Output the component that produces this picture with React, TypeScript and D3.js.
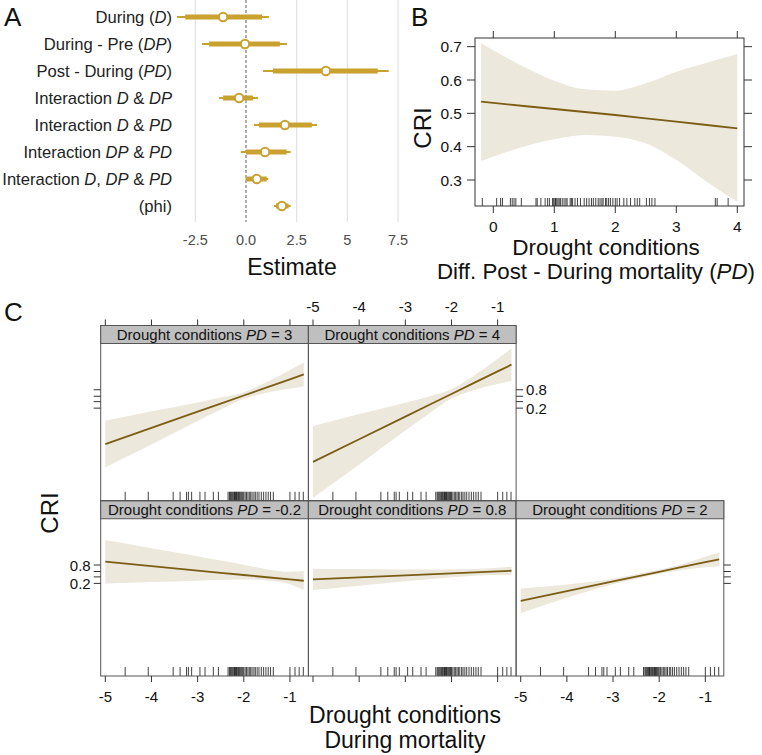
import React from "react";
import * as d3 from "d3";

const FONT = "'Liberation Sans', Arial, Helvetica, sans-serif";
const GOLD = "#c9a12e";
const LINE = "#7b5d14";
const BAND = "#ece8dc";

// ---------- Panel A data ----------
const estLabels = [
  "During (*D*)",
  "During - Pre (*DP*)",
  "Post - During (*PD*)",
  "Interaction *D* & *DP*",
  "Interaction *D* & *PD*",
  "Interaction *DP* & *PD*",
  "Interaction *D*, *DP* & *PD*",
  "(phi)",
];
const estMedian = [-1.13, -0.05, 3.94, -0.34, 1.92, 0.94, 0.53, 1.77];
const innerLo = [-3.0, -1.82, 1.33, -1.13, 0.64, 0.0, 0.04, 1.48];
const innerHi = [0.79, 1.67, 6.5, 0.34, 3.25, 2.0, 1.02, 2.1];
const outerLo = [-3.4, -2.17, 0.84, -1.33, 0.39, -0.25, -0.02, 1.38];
const outerHi = [1.13, 2.02, 7.04, 0.59, 3.5, 2.2, 1.1, 2.2];
const estTicks = [-2.5, 0, 2.5, 5, 7.5];
const estTickLabels = ["-2.5", "0.0", "2.5", "5", "7.5"];

// ---------- Panel B data ----------
const bX = [-0.2, 0.5, 1, 1.5, 2, 2.5, 3, 3.5, 4];
const bFit = [0.535, 0.522, 0.513, 0.504, 0.495, 0.485, 0.475, 0.465, 0.455];
const bUpper = [0.71, 0.64, 0.598, 0.572, 0.568, 0.59, 0.625, 0.652, 0.678];
const bLower = [0.357, 0.4, 0.422, 0.435, 0.43, 0.41, 0.36, 0.295, 0.235];
const bXTicks = [0, 1, 2, 3, 4];
const bYTicks = [0.3, 0.4, 0.5, 0.6, 0.7];
const bRug = [
  -0.18, 0.055, 0.12, 0.15, 0.28, 0.31, 0.34, 0.37, 0.46, 0.7, 0.72, 0.78,
  0.85, 0.89, 0.92, 0.97, 0.99, 1.01, 1.02, 1.04, 1.06, 1.08, 1.1, 1.13, 1.16,
  1.19, 1.21, 1.26, 1.28, 1.3, 1.34, 1.38, 1.43, 1.49, 1.53, 1.57, 1.61, 1.64,
  1.68, 1.72, 1.75, 1.78, 1.8, 1.84, 1.86, 1.89, 1.92, 1.96, 2.0, 2.03, 2.07,
  2.14, 2.19, 2.25, 2.32, 2.36, 2.4, 2.51, 2.56, 2.6, 2.65, 3.64, 3.67, 3.85,
];

// ---------- Panel C data ----------
const cX = [-5, -4, -3, -2.5, -2, -1.5, -1, -0.7];
const cXTicks = [-5, -4, -3, -2, -1];
const cYTickProbs = [0.2, 0.4, 0.6, 0.8];
const cYTickLabels = ["0.2", "", "", "0.8"];
const pdNeg02Fit = [1.89, 1.22, 0.55, 0.21, -0.12, -0.46, -0.79, -0.99];
const pdNeg02Up = [5.17, 3.93, 2.69, 2.05, 1.43, 0.75, 0.35, 0.48];
const pdNeg02Lo = [-1.39, -1.19, -0.99, -0.88, -0.8, -0.95, -1.5, -2.4];
const pd08Fit = [-0.78, -0.48, -0.18, -0.03, 0.13, 0.28, 0.43, 0.52];
const pd08Up = [0.82, 0.77, 0.72, 0.7, 0.73, 0.78, 0.98, 1.15];
const pd08Lo = [-2.38, -1.73, -1.08, -0.78, -0.47, -0.22, -0.12, -0.11];
const pd2Fit = [-4.02, -2.56, -1.1, -0.37, 0.36, 1.09, 1.83, 2.25];
const pd2Up = [-2.17, -1.56, -0.7, -0.02, 0.66, 1.54, 2.63, 3.31];
const pd2Lo = [-5.87, -3.56, -1.5, -0.72, 0.06, 0.64, 1.03, 1.19];
const pd3Fit = [-6.8, -4.36, -1.92, -0.7, 0.52, 1.74, 2.96, 3.69];
const pd3Up = [-3.3, -1.86, -0.52, 0.2, 1.02, 2.54, 4.36, 5.49];
const pd3Lo = [-10.3, -6.86, -3.32, -1.6, 0.02, 0.94, 1.56, 1.89];
const pd4Fit = [-9.48, -6.07, -2.66, -0.96, 0.75, 2.46, 4.15, 5.17];
const pd4Up = [-4.08, -2.27, -0.56, 0.34, 1.45, 3.56, 6.05, 7.62];
const pd4Lo = [-14.88, -9.87, -4.76, -2.26, 0.05, 1.36, 2.25, 2.72];
const cRug = [
  -4.57, -4.07, -3.53, -3.38, -3.24, -3.2, -3.13, -2.95, -2.84, -2.66, -2.55,
  -2.34, -2.31, -2.29, -2.27, -2.25, -2.23, -2.21, -2.2, -2.18, -2.16, -2.15,
  -2.13, -2.11, -2.1, -2.08, -2.06, -2.04, -2.02, -2.0, -1.97, -1.94, -1.91,
  -1.88, -1.85, -1.82, -1.78, -1.75, -1.71, -1.67, -1.62, -1.57, -1.52, -1.47,
  -1.42, -1.36, -1.0, -0.89, -0.8, -0.71,
];

const panelsC = [
  { pd: "-0.2", row: 1, col: 0, fit: pdNeg02Fit, up: pdNeg02Up, lo: pdNeg02Lo },
  { pd: "0.8", row: 1, col: 1, fit: pd08Fit, up: pd08Up, lo: pd08Lo },
  { pd: "2", row: 1, col: 2, fit: pd2Fit, up: pd2Up, lo: pd2Lo },
  { pd: "3", row: 0, col: 0, fit: pd3Fit, up: pd3Up, lo: pd3Lo },
  { pd: "4", row: 0, col: 1, fit: pd4Fit, up: pd4Up, lo: pd4Lo },
];

function Rich({ text, ...props }: any) {
  const parts = text.split("*");
  return (
    <text {...props} style={{ whiteSpace: "pre" }}>
      {parts.map((p: string, i: number) => (
        <tspan key={i} fontStyle={i % 2 ? "italic" : "normal"}>
          {p}
        </tspan>
      ))}
    </text>
  );
}

const logit = (p: number) => Math.log(p / (1 - p));

function PanelA() {
  const x = d3.scaleLinear().domain([-3.6, 7.6]).range([173, 400.1]);
  const y = d3.scalePoint<string>().domain(estLabels).range([17, 206]);
  return (
    <g>
      {estTicks.map((t) => (
        <line key={t} x1={x(t)} x2={x(t)} y1={0} y2={222}
          stroke={t === 0 ? "none" : "#e3e3e3"} strokeWidth={1.3} />
      ))}
      <line x1={x(0)} x2={x(0)} y1={0} y2={222} stroke="#333" strokeWidth={0.8} strokeDasharray="3,2" />
      {estLabels.map((lab, i) => {
        const yy = y(lab)!;
        return (
          <g key={lab}>
            <Rich text={lab} x={172} y={yy + 6} textAnchor="end" fontSize={16.6} fill="#222" />
            <line x1={x(outerLo[i])} x2={x(outerHi[i])} y1={yy} y2={yy} stroke={GOLD} strokeWidth={2} />
            <line x1={x(innerLo[i])} x2={x(innerHi[i])} y1={yy} y2={yy} stroke={GOLD} strokeWidth={5} />
            <circle cx={x(estMedian[i])} cy={yy} r={4.2} fill="#fff" stroke={GOLD} strokeWidth={2} />
          </g>
        );
      })}
      {estTicks.map((t, i) => (
        <text key={t} x={x(t)} y={245} textAnchor="middle" fontSize={14.5} fill="#4d4d4d">
          {estTickLabels[i]}
        </text>
      ))}
      <text x={292} y={275} textAnchor="middle" fontSize={23} fill="#111">Estimate</text>
    </g>
  );
}

function PanelB() {
  const x = d3.scaleLinear().domain([-0.3, 4.11]).range([475, 744]);
  const y = d3.scaleLinear().domain([0.222, 0.726]).range([206, 38]);
  const area = d3.area<number>()
    .x((_, i) => x(bX[i]))
    .y0((_, i) => y(bLower[i]))
    .y1((_, i) => y(bUpper[i]))
    .curve(d3.curveMonotoneX);
  const line = d3.line<number>().x((_, i) => x(bX[i])).y((d) => y(d));
  return (
    <g>
      <path d={area(bX)!} fill={BAND} />
      <path d={line(bFit)!} fill="none" stroke={LINE} strokeWidth={1.8} />
      {bRug.map((r, i) => (
        <line key={i} x1={x(r)} x2={x(r)} y1={198} y2={206} stroke="#111" strokeWidth={0.8} />
      ))}
      <rect x={475} y={38} width={269} height={168} fill="none" stroke="#333" strokeWidth={1} />
      {bXTicks.map((t) => (
        <g key={t}>
          <line x1={x(t)} x2={x(t)} y1={206} y2={213} stroke="#333" />
          <line x1={x(t)} x2={x(t)} y1={31} y2={38} stroke="#333" />
          <text x={x(t)} y={232} textAnchor="middle" fontSize={15.5} fill="#111">{t}</text>
        </g>
      ))}
      {bYTicks.map((t) => (
        <g key={t}>
          <line x1={467} x2={475} y1={y(t)} y2={y(t)} stroke="#333" />
          <line x1={744} x2={752} y1={y(t)} y2={y(t)} stroke="#333" />
          <text x={462} y={y(t) + 5.5} textAnchor="end" fontSize={15.5} fill="#111">{t.toFixed(1)}</text>
        </g>
      ))}
      <text transform="translate(431,128) rotate(-90)" textAnchor="middle" fontSize={24} fill="#111">CRI</text>
      <text x={606} y={255} textAnchor="middle" fontSize={22.5} fill="#111">Drought conditions</text>
      <Rich text="Diff. Post - During mortality (*PD*)" x={596} y={279} textAnchor="middle" fontSize={22.3} fill="#111" />
    </g>
  );
}

function PanelC() {
  const colLeft = [100.7, 308.4, 516.1];
  const pw = 207.7;
  const cTop = 325.5;
  const rowH = 175.25;
  const stripH = 18;
  const xs = colLeft.map((l) => d3.scaleLinear().domain([-5.1, -0.6]).range([l, l + pw]));
  const ys = [0, 1].map((r) =>
    d3.scaleLinear().domain([-15.35, 8.36]).range([cTop + r * rowH + rowH, cTop + r * rowH + stripH])
  );
  const yTicks = cYTickProbs.map(logit);
  return (
    <g>
      <defs>
        {panelsC.map((p) => (
          <clipPath key={p.pd} id={`clip${p.row}${p.col}`}>
            <rect x={colLeft[p.col]} y={cTop + p.row * rowH + stripH} width={pw} height={rowH - stripH} />
          </clipPath>
        ))}
      </defs>
      {panelsC.map((p) => {
        const x = xs[p.col];
        const y = ys[p.row];
        const top = cTop + p.row * rowH;
        const bottom = top + rowH;
        const area = d3.area<number>()
          .x((_, i) => x(cX[i]))
          .y0((_, i) => y(p.lo[i]))
          .y1((_, i) => y(p.up[i]))
          .curve(d3.curveMonotoneX);
        const line = d3.line<number>().x((_, i) => x(cX[i])).y((d) => y(d));
        return (
          <g key={p.pd}>
            <g clipPath={`url(#clip${p.row}${p.col})`}>
              <path d={area(cX)!} fill={BAND} />
              <path d={line(p.fit)!} fill="none" stroke={LINE} strokeWidth={1.8} />
            </g>
            {cRug.map((r, i) => (
              <line key={i} x1={x(r)} x2={x(r)} y1={bottom - 9} y2={bottom} stroke="#111" strokeWidth={0.8} />
            ))}
            <rect x={colLeft[p.col]} y={top} width={pw} height={rowH} fill="none" stroke="#555" strokeWidth={1} />
            <rect x={colLeft[p.col]} y={top} width={pw} height={stripH} fill="#bfbfbf" stroke="#555" strokeWidth={1} />
            <Rich text={`Drought conditions *PD* = ${p.pd}`} x={colLeft[p.col] + pw / 2} y={top + 14.5}
              textAnchor="middle" fontSize={15} fill="#111" />
          </g>
        );
      })}
      {/* top axes */}
      {[0, 1].map((c) => (
        <g key={"t" + c}>
          {cXTicks.map((t) => (
            <g key={t}>
              <line x1={xs[c](t)} x2={xs[c](t)} y1={cTop - 6} y2={cTop} stroke="#333" />
              {c === 1 && (
                <text x={xs[c](t)} y={312} textAnchor="middle" fontSize={15} fill="#111">{t}</text>
              )}
            </g>
          ))}
        </g>
      ))}
      {/* bottom axes */}
      {[0, 1, 2].map((c) => (
        <g key={"b" + c}>
          {cXTicks.map((t) => (
            <g key={t}>
              <line x1={xs[c](t)} x2={xs[c](t)} y1={cTop + 2 * rowH} y2={cTop + 2 * rowH + 6} stroke="#333" />
              {c !== 1 && (
                <text x={xs[c](t)} y={702} textAnchor="middle" fontSize={15} fill="#111">{t}</text>
              )}
            </g>
          ))}
        </g>
      ))}
      {/* left axes */}
      {[0, 1].map((r) => (
        <g key={"l" + r}>
          {yTicks.map((t, i) => (
            <g key={i}>
              <line x1={colLeft[0] - 7} x2={colLeft[0]} y1={ys[r](t)} y2={ys[r](t)} stroke="#333" />
              {r === 1 && cYTickLabels[i] && (
                <text x={colLeft[0] - 10} y={ys[r](t) + 5.5} textAnchor="end" fontSize={15} fill="#111">
                  {cYTickLabels[i]}
                </text>
              )}
            </g>
          ))}
        </g>
      ))}
      {/* right axes */}
      {[0, 1].map((r) => {
        const xr = r === 0 ? colLeft[1] + pw : colLeft[2] + pw;
        return (
          <g key={"r" + r}>
            {yTicks.map((t, i) => (
              <g key={i}>
                <line x1={xr} x2={xr + 7} y1={ys[r](t)} y2={ys[r](t)} stroke="#333" />
                {r === 0 && cYTickLabels[i] && (
                  <text x={xr + 10} y={ys[r](t) + 5.5} textAnchor="start" fontSize={15} fill="#111">
                    {cYTickLabels[i]}
                  </text>
                )}
              </g>
            ))}
          </g>
        );
      })}
      <text transform="translate(58,513) rotate(-90)" textAnchor="middle" fontSize={24} fill="#111">CRI</text>
      <text x={405} y={723} textAnchor="middle" fontSize={23} fill="#111">Drought conditions</text>
      <text x={405} y={748} textAnchor="middle" fontSize={23} fill="#111">During mortality</text>
    </g>
  );
}

export default function App() {
  return (
    <svg width={762} height={755} style={{ position: "absolute", left: 0, top: 0, background: "#fff" }}
      fontFamily={FONT}>
      <rect width={762} height={755} fill="#fff" />
      <text x={4} y={26} fontSize={26} fill="#111">A</text>
      <text x={411} y={26} fontSize={26} fill="#111">B</text>
      <text x={4} y={321} fontSize={26} fill="#111">C</text>
      <PanelA />
      <PanelB />
      <PanelC />
    </svg>
  );
}
